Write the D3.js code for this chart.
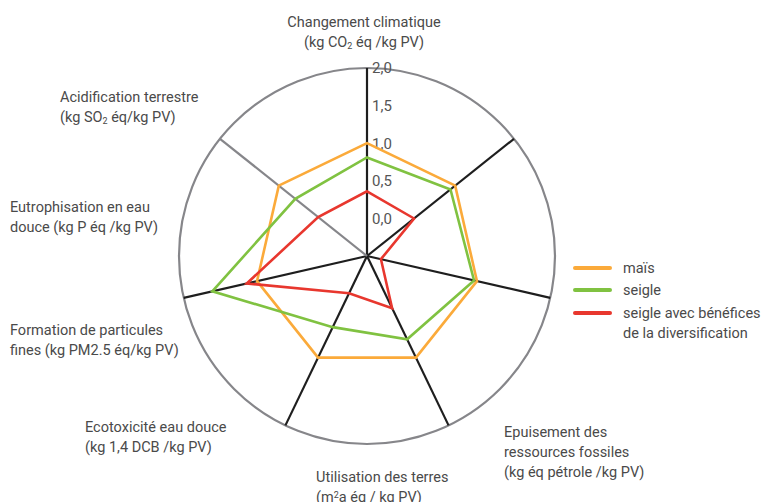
<!DOCTYPE html>
<html><head><meta charset="utf-8">
<script src="https://cdn.jsdelivr.net/npm/d3@7"></script>
<style>body{margin:0;background:#fff}svg{display:block}text{font-family:Roboto,"Noto Sans",sans-serif;fill:#4a4a4a}</style>
</head><body><svg id="c" width="768" height="502"></svg>
<script>
const categories = ["Changement climatique","(axe 2)","Epuisement des ressources fossiles","Utilisation des terres","Ecotoxicité eau douce","Formation de particules fines","Eutrophisation en eau douce"];
const seriesNames = ["maïs","seigle","seigle avec bénéfices de la diversification"];
const mais   = [1.00, 1.00, 1.00, 1.00, 1.00, 1.00, 1.00];
const seigle = [0.81, 0.92, 0.96, 0.73, 0.55, 1.61, 0.72];
const seigleDiv = [0.36, 0.30, -0.31, 0.27, 0.05, 1.14, 0.33];
const tickValues = [0, 0.5, 1.0, 1.5, 2.0];
const tickLabels = ["0,0","0,5","1,0","1,5","2,0"];
const colors = ["#FBAA3A","#80C241","#E8372E"];

const svg = d3.select("#c");
const cx = 367, cy = 256, R = 188;
const r = d3.scaleLinear().domain([-0.5, 2.0]).range([0, R]);
const n = 7;
const ang = d3.scaleLinear().domain([0, n]).range([0, 2*Math.PI]);
const pt = (i, v) => [cx + Math.sin(ang(i))*r(v), cy - Math.cos(ang(i))*r(v)];

svg.append("circle").attr("cx",cx).attr("cy",cy).attr("r",R)
  .attr("fill","none").attr("stroke","#86868a").attr("stroke-width",2.2);
d3.range(n).forEach(i => {
  const p = pt(i, 2.0);
  svg.append("line").attr("x1",cx).attr("y1",cy).attr("x2",p[0]).attr("y2",p[1])
    .attr("stroke", i===6 ? "#86868a" : "#1e1e1e").attr("stroke-width",2.2);
});
tickValues.forEach((t,k) => {
  svg.append("text").attr("x",cx+5).attr("y",cy - r(t)).attr("dy","0.36em")
    .attr("font-size",15).style("fill","#555").text(tickLabels[k]);
});
const line = d3.line().curve(d3.curveLinearClosed);
[mais, seigle, seigleDiv].forEach((s,k) => {
  svg.append("path").attr("d", line(s.map((v,i)=>pt(i,v))))
    .attr("fill","none").attr("stroke",colors[k]).attr("stroke-width",2.6).attr("stroke-linejoin","miter");
});

// labels: one <text> per line; parts may be {t, sub} or {t, sup}
function lab(x, y, anchor, lines){
  lines.forEach((parts, j) => {
    const t = svg.append("text").attr("x",x).attr("y",y + j*20).attr("text-anchor",anchor).attr("font-size",14.5);
    parts.forEach(p => {
      if (typeof p === "string") t.append("tspan").text(p);
      else t.append("tspan").attr("font-size",9).attr("baseline-shift", p.sub ? "-25%" : "45%").text(p.t);
    });
  });
}
lab(364, 27, "middle", [["Changement climatique"], ["(kg CO",{t:"2",sub:true},"\u00a0éq /kg PV)"]]);
lab(60, 102, "start", [["Acidification terrestre"], ["(kg SO",{t:"2",sub:true},"\u00a0éq/kg PV)"]]);
lab(10, 212, "start", [["Eutrophisation en eau"], ["douce (kg P éq /kg PV)"]]);
lab(10, 335, "start", [["Formation de particules"], ["fines (kg PM2.5 éq/kg PV)"]]);
lab(85, 432, "start", [["Ecotoxicité eau douce"], ["(kg 1,4 DCB /kg PV)"]]);
lab(316, 482, "start", [["Utilisation des terres"], ["(m",{t:"2",sup:true},"a éq / kg PV)"]]);
lab(504, 437, "start", [["Epuisement des"], ["ressources fossiles"], ["(kg éq pétrole /kg PV)"]]);

const leg = [[seriesNames[0]],[seriesNames[1]],["seigle avec bénéfices","de la diversification"]];
const ly = [268, 290, 313];
leg.forEach((l,k)=>{
  svg.append("line").attr("x1",575).attr("x2",610).attr("y1",ly[k]).attr("y2",ly[k])
    .attr("stroke",colors[k]).attr("stroke-width",4).attr("stroke-linecap","round");
  l.forEach((s,j)=>svg.append("text").attr("x",623).attr("y",ly[k]+j*20).attr("dy","0.35em").attr("font-size",14.5).text(s));
});
</script></body></html>
